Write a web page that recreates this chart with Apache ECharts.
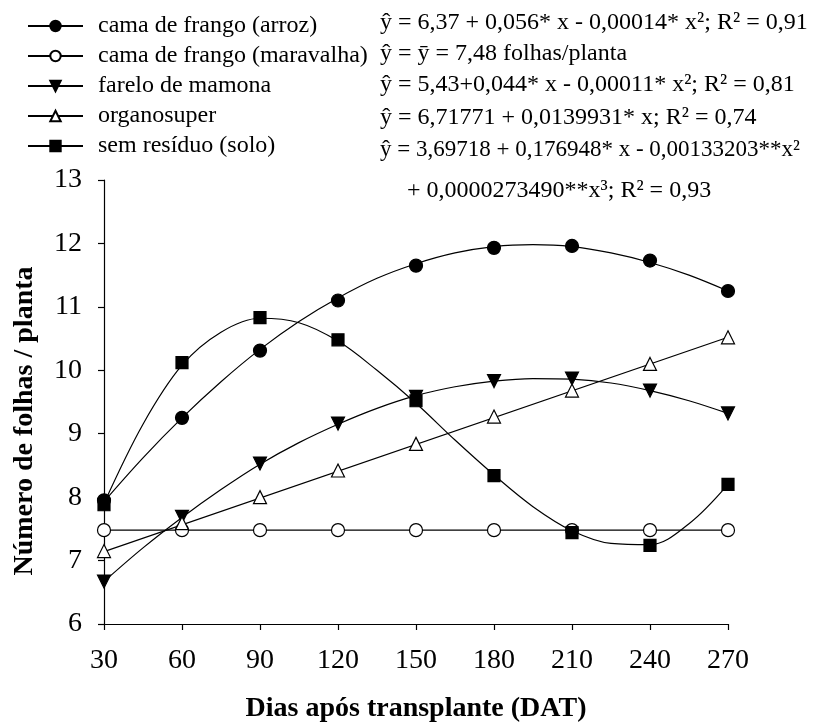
<!DOCTYPE html>
<html>
<head>
<meta charset="utf-8">
<script src="https://cdn.jsdelivr.net/npm/echarts@6/dist/echarts.min.js"></script>
<style>
html,body{margin:0;padding:0;background:#fff;}
#c{width:823px;height:728px;}
</style>
</head>
<body>
<div id="c"></div>
<script>
// ---- data ----
const days = [30, 60, 90, 120, 150, 180, 210, 240, 270];
const names = ['cama de frango (arroz)', 'cama de frango (maravalha)', 'farelo de mamona', 'organosuper', 'sem resíduo (solo)'];

// observed means (markers)
const arrozPts      = [7.95, 9.25, 10.31, 11.10, 11.65, 11.93, 11.96, 11.73, 11.25];
const maravalhaPts  = [7.48, 7.48, 7.48, 7.48, 7.48, 7.48, 7.48, 7.48, 7.48];
const mamonaPts     = [6.67, 7.69, 8.53, 9.16, 9.58, 9.83, 9.87, 9.68, 9.32];
const organoPts     = [7.15, 7.59, 8.00, 8.42, 8.84, 9.27, 9.68, 10.10, 10.52];
const soloPts       = [7.88, 10.12, 10.83, 10.48, 9.52, 8.34, 7.44, 7.24, 8.20];

// fitted curves
const curveDays      = [30, 45, 60, 75, 90, 105, 120, 135, 150, 165, 180, 195, 210, 225, 240, 255, 270];
const arrozCurve     = [7.93, 8.62, 9.25, 9.82, 10.33, 10.77, 11.14, 11.45, 11.68, 11.85, 11.95, 11.98, 11.95, 11.85, 11.70, 11.50, 11.25];
const mamonaCurve    = [6.67, 7.20, 7.68, 8.12, 8.52, 8.86, 9.15, 9.40, 9.60, 9.74, 9.83, 9.87, 9.86, 9.80, 9.68, 9.52, 9.32];
const soloCurve      = [7.90, 9.15, 10.08, 10.60, 10.82, 10.75, 10.46, 10.00, 9.48, 8.90, 8.35, 7.85, 7.47, 7.27, 7.25, 7.58, 8.20];
const lineDays       = [30, 270];
const maravalhaLine  = [7.48, 7.48];
const organoLine     = [7.14, 10.52];

const equations = [
  'ŷ = 6,37 + 0,056* x - 0,00014* x²; R² = 0,91',
  'ŷ = ȳ = 7,48 folhas/planta',
  'ŷ = 5,43+0,044* x - 0,00011* x²; R² = 0,81',
  'ŷ = 6,71771 + 0,0139931* x; R² = 0,74',
  'ŷ = 3,69718 + 0,176948* x - 0,00133203**x²',
  '+ 0,0000273490**x³; R² = 0,93'
];
const xTitle = 'Dias após transplante (DAT)';
const yTitle = 'Número de folhas / planta';

// ---- build ----
const FONT = '"Liberation Serif", "Times New Roman", serif';
const zip = (xs, ys) => xs.map((x, i) => [x, ys[i]]);

const styles = [
  {symbol: 'circle', size: 13, rotate: 0, color: '#000', border: '#000'},
  {symbol: 'circle', size: 13, rotate: 0, color: '#fff', border: '#000'},
  {symbol: 'triangle', size: 13, rotate: 180, color: '#000', border: '#000'},
  {symbol: 'triangle', size: 13, rotate: 0, color: '#fff', border: '#000'},
  {symbol: 'rect', size: 12, rotate: 0, color: '#000', border: '#000'}
];
const curves = [
  zip(curveDays, arrozCurve),
  zip(lineDays, maravalhaLine),
  zip(curveDays, mamonaCurve),
  zip(lineDays, organoLine),
  zip(curveDays, soloCurve)
];
const pts = [arrozPts, maravalhaPts, mamonaPts, organoPts, soloPts];

const series = [];
names.forEach((n, i) => {
  const s = styles[i];
  series.push({
    name: n, type: 'line', data: curves[i], smooth: 0.35, showSymbol: false,
    symbol: s.symbol, symbolRotate: s.rotate,
    lineStyle: {color: '#000', width: 1.2},
    itemStyle: {color: s.color, borderColor: s.border, borderWidth: 1.2},
    silent: true, z: 2
  });
});
names.forEach((n, i) => {
  const s = styles[i];
  series.push({
    name: n + ' pts', type: 'scatter', data: zip(days, pts[i]),
    symbol: s.symbol, symbolSize: s.size, symbolRotate: s.rotate,
    itemStyle: {color: s.color, borderColor: s.border, borderWidth: 1.2, opacity: 1},
    silent: true, z: 3 + i
  });
});

const eqMid = [23, 54, 85, 118, 150, 191];
const eqLeft = [380, 380, 380, 380, 380, 407];
const eqSize = [24, 24, 24, 24, 23, 24];
const graphics = equations.map((t, i) => ({
  type: 'text', left: eqLeft[i], top: eqMid[i] - 12,
  style: {text: t, font: eqSize[i] + 'px ' + FONT, fill: '#000'}
}));
graphics.push({
  type: 'text', x: 25, y: 421, rotation: Math.PI / 2,
  style: {text: yTitle, font: 'bold 28px ' + FONT, fill: '#000', textAlign: 'center', textVerticalAlign: 'middle'}
});

const chart = echarts.init(document.getElementById('c'));
chart.setOption({
  animation: false,
  backgroundColor: '#fff',
  grid: {left: 104, right: 95, top: 180, bottom: 100, containLabel: false},
  legend: {
    data: names, orient: 'vertical', left: 27, top: 14, padding: 0,
    itemWidth: 55, itemHeight: 13, itemGap: 6,
    textStyle: {fontFamily: FONT, fontSize: 24, color: '#000', padding: [0, 0, 0, 10]},
    selectedMode: false
  },
  xAxis: {
    type: 'value', min: 30, max: 270, interval: 30,
    name: xTitle, nameLocation: 'middle', nameGap: 71,
    nameTextStyle: {fontFamily: FONT, fontSize: 28, fontWeight: 'bold', color: '#000'},
    axisLine: {lineStyle: {color: '#000', width: 1.2}},
    axisTick: {show: true, length: 6, lineStyle: {color: '#000', width: 1.2}},
    axisLabel: {fontFamily: FONT, fontSize: 28, color: '#000', margin: 23},
    splitLine: {show: false}
  },
  yAxis: {
    type: 'value', min: 6, max: 13, interval: 1,
    axisLine: {show: true, lineStyle: {color: '#000', width: 1.2}},
    axisTick: {show: true, length: 6, lineStyle: {color: '#000', width: 1.2}},
    axisLabel: {fontFamily: FONT, fontSize: 28, color: '#000', margin: 22},
    splitLine: {show: false}
  },
  graphic: graphics,
  series: series
});
</script>
</body>
</html>
